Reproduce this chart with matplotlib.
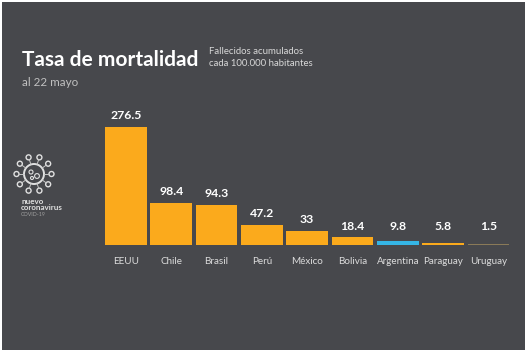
import numpy as np
import matplotlib
matplotlib.use("Agg")
from matplotlib import pyplot as plt
from matplotlib.patches import Circle, Rectangle

paises = ["EEUU", "Chile", "Brasil", "Perú", "México", "Bolivia", "Argentina", "Paraguay", "Uruguay"]
tasa = [276.5, 98.4, 94.3, 47.2, 33, 18.4, 9.8, 5.8, 1.5]
etiquetas = ["276.5", "98.4", "94.3", "47.2", "33", "18.4", "9.8", "5.8", "1.5"]
colores = ["#fbaa1c"] * 9
colores[6] = "#35b5e5"
colores[8] = "#8a7a58"

W, H = 527, 352
FONDO = "#47484c"

plt.rcParams['font.family'] = ['Lato', 'DejaVu Sans']

fig = plt.figure(figsize=(W / 100, H / 100), dpi=100, facecolor="white")

# fondo gris, con el borde blanco del original
bg = fig.add_axes([0, 0, 1, 1])
bg.set_xlim(0, W)
bg.set_ylim(H, 0)
bg.axis("off")
bg.add_patch(Rectangle((2, 2), 523, 348, color=FONDO, lw=0))

bg.text(22, 60, "Tasa de mortalidad", color="white", fontsize=15, fontweight="bold", va="center")
bg.text(209, 51, "Fallecidos acumulados", color="#d8d8d8", fontsize=6.9, va="center")
bg.text(209, 63, "cada 100.000 habitantes", color="#d8d8d8", fontsize=6.9, va="center")
bg.text(22, 83, "al 22 mayo", color="#c0c0c0", fontsize=8.4, va="center")

# icono del virus
cx, cy = 34, 174
bg.add_patch(Circle((cx, cy), 10, fill=False, ec="#e0e0e0", lw=1.4))
for dx, dy, r in [(-3, -2, 2), (3, 2, 2.4), (-2, 4, 1.5)]:
    bg.add_patch(Circle((cx + dx, cy + dy), r, fill=False, ec="#e0e0e0", lw=0.8))
for ang in np.arange(0, 360, 36):
    ux, uy = np.cos(np.radians(ang)), np.sin(np.radians(ang))
    bg.plot([cx + 10 * ux, cx + 15 * ux], [cy + 10 * uy, cy + 15 * uy], color="#c8c8c8", lw=0.7)
    bg.add_patch(Circle((cx + 17.5 * ux, cy + 17.5 * uy), 2.5, fill=False, ec="#e0e0e0", lw=1))
bg.text(21, 201, "nuevo", color="#e0e0e0", fontsize=5.8, fontweight="bold", va="center")
bg.text(21, 208, "coronavirus", color="#e0e0e0", fontsize=5.8, fontweight="bold", va="center")
bg.text(21, 215, "COVID-19", color="#a0a0a0", fontsize=3.8, va="center")

# barras
paso = 45.3
x0 = 126 - paso / 2
ax = fig.add_axes([x0 / W, 1 - 245 / H, paso * 9 / W, (245 - 127) / H])
ax.patch.set_alpha(0)
x = np.arange(len(paises))
barras = ax.bar(x, tasa, width=0.92, color=colores)
ax.set_xlim(-0.5, 8.5)
ax.set_ylim(0, 276.5)
for s in ax.spines.values():
    s.set_visible(False)
ax.set_yticks([])
ax.set_xticks(x)
ax.set_xticklabels(paises, color="#dcdcdc", fontsize=7.1)
ax.tick_params(axis="x", length=0, pad=8.5)
# las barras chicas llevan la etiqueta a la misma altura que Bolivia
for b, t in zip(barras, etiquetas):
    ax.annotate(t, (b.get_x() + b.get_width() / 2, max(b.get_height(), 18.4)), xytext=(0, 4),
                textcoords="offset points", ha="center", va="bottom",
                color="white", fontsize=8.8, fontweight="bold")

fig.savefig("out.png", dpi=100, facecolor=fig.get_facecolor())
